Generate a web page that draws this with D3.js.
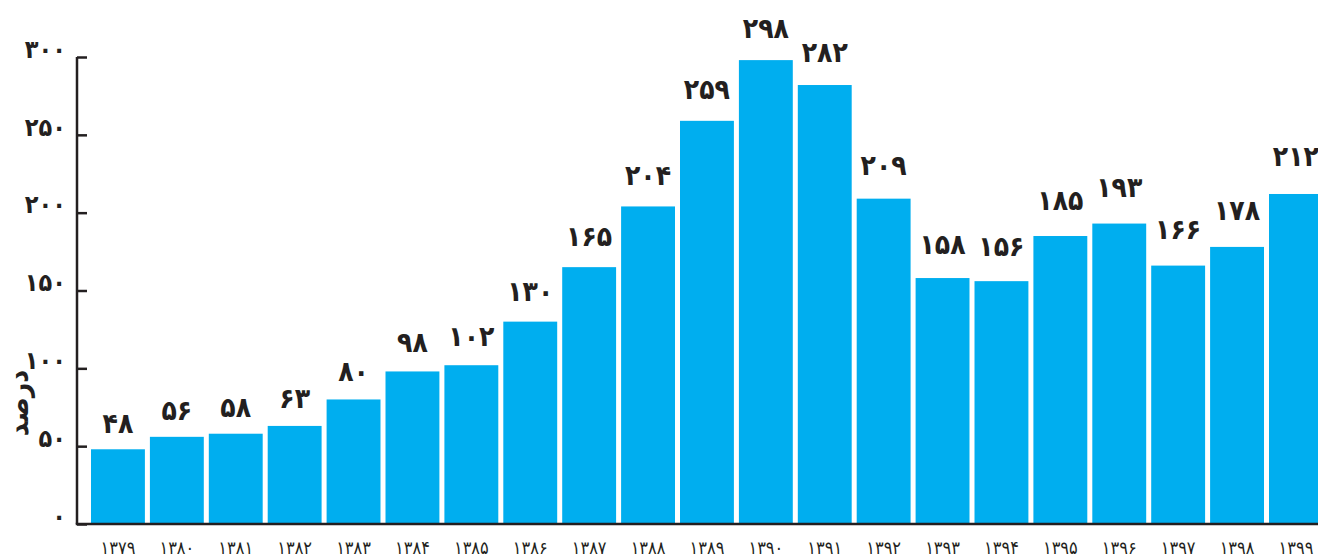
<!DOCTYPE html>
<html lang="fa">
<head>
    <meta charset="UTF-8">
    <title>درصد</title>
    <script src="https://d3js.org/d3.v7.min.js"></script>
    <style>
        body { margin: 0; background: #fff; }
        text { font-family: "DejaVu Sans Condensed", "DejaVu Sans", sans-serif; font-stretch: condensed; fill: #231f20; }
        .bar-label { font-size: 28px; font-weight: bold; text-anchor: middle; letter-spacing: -1.5px; }
        .y-tick { font-size: 25px; font-weight: bold; text-anchor: end; }
        .x-tick { font-size: 18px; text-anchor: middle; }
        .axis-title { font-size: 28px; font-weight: bold; text-anchor: middle; }
    </style>
</head>
<body>
    <div id="chart"></div>
    <script>
        const years = [1379, 1380, 1381, 1382, 1383, 1384, 1385, 1386, 1387, 1388, 1389,
                       1390, 1391, 1392, 1393, 1394, 1395, 1396, 1397, 1398, 1399];
        const values = [48, 56, 58, 63, 80, 98, 102, 130, 165, 204, 259,
                        298, 282, 209, 158, 156, 185, 193, 166, 178, 212];
        const yTicks = [0, 50, 100, 150, 200, 250, 300];
        const yTitle = "درصد";

        const fa = n => String(n).replace(/\d/g, d => "۰۱۲۳۴۵۶۷۸۹"[d]);

        const width = 1318, height = 560;
        const axisX = 77, axisBottom = 524, axisTop = 57;

        const svg = d3.select("#chart").append("svg")
            .attr("width", width)
            .attr("height", height);

        const x = d3.scaleBand()
            .domain(years)
            .range([88.5, 88.5 + 58.9 * years.length])
            .paddingInner(0.085)
            .paddingOuter(0.0425);

        const y = d3.scaleLinear()
            .domain([0, 300])
            .range([axisBottom, axisTop]);

        // bars
        svg.append("g")
            .selectAll("rect")
            .data(values)
            .enter().append("rect")
              .attr("x", (d, i) => x(years[i]))
              .attr("y", d => y(d))
              .attr("width", x.bandwidth())
              .attr("height", d => y(0) - y(d))
              .attr("fill", "#00aeef");

        // value labels (last one nudged so it stays inside the frame)
        svg.append("g")
            .selectAll("text")
            .data(values)
            .enter().append("text")
              .attr("class", "bar-label")
              .attr("x", (d, i) => Math.min(x(years[i]) + x.bandwidth() / 2, width - 22))
              .attr("y", (d, i) => y(d) - 16 - i * 0.6)
              .text(d => fa(d));

        // y axis (ticks pointing inward)
        const yAxis = svg.append("g")
            .attr("transform", `translate(${axisX},0)`)
            .call(d3.axisRight(y).tickValues(yTicks).tickSize(10).tickFormat(""));
        yAxis.select(".domain").remove();
        yAxis.selectAll("line").attr("stroke", "#231f20").attr("stroke-width", 2.5);

        svg.append("line")
            .attr("x1", axisX).attr("x2", axisX)
            .attr("y1", y(300)).attr("y2", y(0))
            .attr("stroke", "#231f20").attr("stroke-width", 2.5);

        svg.append("line")
            .attr("x1", axisX - 1.25).attr("x2", width)
            .attr("y1", y(0)).attr("y2", y(0))
            .attr("stroke", "#231f20").attr("stroke-width", 2.5);

        svg.append("g")
            .selectAll("text")
            .data(yTicks)
            .enter().append("text")
              .attr("class", "y-tick")
              .attr("x", 66)
              .attr("y", d => y(d) - 8)
              .attr("dy", "0.35em")
              .text(d => fa(d));

        // x tick labels
        svg.append("g")
            .selectAll("text")
            .data(years)
            .enter().append("text")
              .attr("class", "x-tick")
              .attr("x", (d, i) => Math.min(x(d) + x.bandwidth() / 2, width - 22))
              .attr("y", 548)
              .attr("dy", "0.35em")
              .text(d => fa(d));

        svg.append("text")
            .attr("class", "axis-title")
            .attr("transform", "translate(18,403) rotate(-90)")
            .attr("dy", "0.35em")
            .text(yTitle);
    </script>
</body>
</html>
